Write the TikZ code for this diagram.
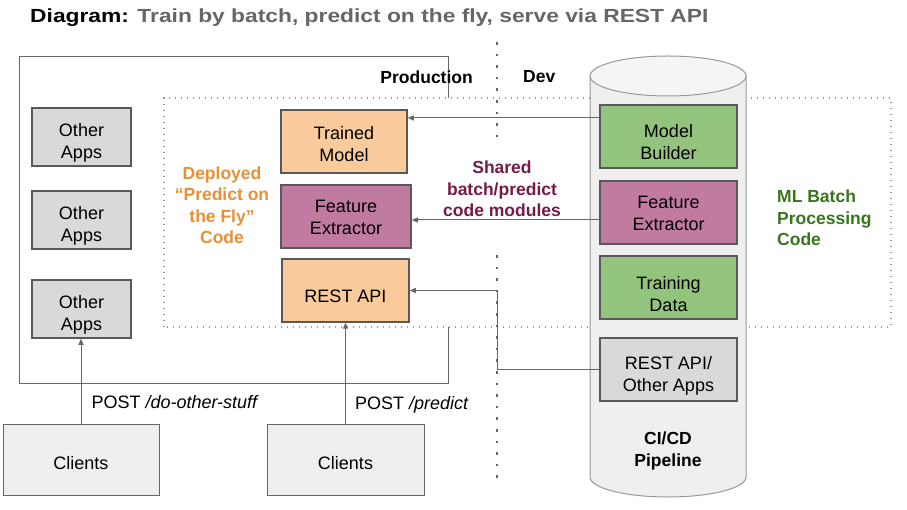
\documentclass[tikz,border=0pt]{standalone}
\usepackage{fontspec}
\setmainfont{Liberation Sans}
\newfontfamily\titlefont[FakeStretch=1.2]{Liberation Sans}
\usetikzlibrary{arrows.meta,positioning}
\definecolor{peach}{HTML}{F9CB9C}
\definecolor{plum}{HTML}{C27BA0}
\definecolor{leaf}{HTML}{93C47D}
\definecolor{appgray}{HTML}{D9D9D9}
\definecolor{light}{HTML}{EFEFEF}
\definecolor{edge}{HTML}{595959}
\definecolor{wire}{HTML}{666666}
\definecolor{deployed}{HTML}{E69138}
\definecolor{shared}{HTML}{741B47}
\definecolor{batch}{HTML}{38761D}
\newcommand\boxfont{\fontsize{18}{22}\selectfont}
% box text sits a little below the middle
\newcommand\lowtext[2][6pt]{\raisebox{-#1}[\height][\depth]{\begin{tabular}{@{}c@{}}#2\end{tabular}}}
\tikzset{
  blk/.style={draw=edge,line width=1.5pt,inner sep=0pt,font=\boxfont},
  client/.style={draw=wire,line width=0.9pt,fill=light,inner sep=0pt,font=\boxfont,
    minimum width=156pt,minimum height=71pt},
  arr/.style={draw=wire,line width=1pt,-{Triangle[length=6pt,width=5pt]}},
  txt/.style={font=\fontsize{17.5}{21.5}\selectfont\bfseries,align=center,inner sep=0pt}
}
\begin{document}
\begin{tikzpicture}[x=1pt,y=1pt]
  \useasboundingbox (0,0) rectangle (907,509);
  \node[anchor=west,inner sep=0,font=\titlefont\fontsize{19}{23}\selectfont\bfseries] (title) at (30,491)
    {Diagram: \textcolor{wire}{Train by batch, predict on the fly, serve via REST API}};

  % production / dev split
  \draw[wire,line width=0.9pt] (19,126) rectangle (448,453);
  \filldraw[fill=white,draw=gray!80,line width=1.2pt,dash pattern=on 1.2pt off 4.8pt]
    (164,182) rectangle (891,411);
  \draw[wire,line width=2.6pt,dash pattern=on 2.6pt off 9pt]
    (497,467) -- (497,369) (497,254) -- (497,31);
  \node[txt,anchor=east] (prod) at (473,432) {Production};
  \node[txt,anchor=west] (dev) at (523,432) {Dev};

  % CI/CD cylinder
  \filldraw[fill=light,draw=gray!80,line width=1pt] (590,433) -- (590,32)
    arc[start angle=180,end angle=360,x radius=78,y radius=20] -- (746,433) -- cycle;
  \filldraw[fill=gray!8,draw=gray!80,line width=1pt] (668,433) ellipse [x radius=78,y radius=20];

  \foreach \y [count=\i] in {372,289,200}
    \node[blk,fill=appgray,minimum width=99pt,minimum height=58pt] (oa\i) at (81.5,\y) {\lowtext{Other\\Apps}};

  \node[blk,fill=peach,minimum width=126pt,minimum height=63pt] (tm) at (344,367.5) {\lowtext[5pt]{Trained\\Model}};
  \node[blk,fill=plum,minimum width=130pt,minimum height=63pt] (fel) at (346,292.5) {\lowtext[3pt]{Feature\\Extractor}};
  \node[blk,fill=peach,minimum width=127pt,minimum height=63pt] (rest) at (345.5,218.5) {\lowtext[8pt]{REST API}};

  \node[blk,fill=leaf,minimum width=137pt,minimum height=63pt] (mb) at (668.5,372.5) {\lowtext[8pt]{Model\\Builder}};
  \node[blk,fill=plum,minimum width=137pt,minimum height=63pt] (fer) at (668.5,296.5) {\lowtext[3pt]{Feature\\Extractor}};
  \node[blk,fill=leaf,minimum width=137pt,minimum height=63pt] (td) at (668.5,221.5) {\lowtext[9pt]{Training\\Data}};
  \node[blk,fill=appgray,minimum width=137pt,minimum height=63pt] (ra) at (668.5,139.5) {\lowtext[7pt]{REST API/\\Other Apps}};

  \node[client] (cl1) at (81,49.5) {\lowtext{Clients}};
  \node[client,minimum width=157pt] (cl2) at (345.5,49.5) {\lowtext{Clients}};

  \node[txt,text=deployed] (fly) at (222,304) {Deployed\\“Predict on\\the Fly”\\Code};
  \node[txt,text=shared] (shr) at (502,320) {Shared\\batch/predict\\code modules};
  \node[txt,text=batch,align=left,anchor=west] (mlb) at (777,291) {ML Batch\\Processing\\Code};
  \node[txt] (cicd) at (668,58) {CI/CD\\Pipeline};

  % connectors
  \draw[arr] ([yshift=18.5pt]mb.west) -- ([yshift=18.5pt]mb.west -| tm.east);
  \draw[arr] ([yshift=-7.5pt]fer.west) -- ([yshift=-7.5pt]fer.west -| fel.east);
  \draw[arr] (ra.west) -- ++(-102,0) |- (rest.east);
  \draw[arr] (cl1.north) -- (cl1.north |- oa3.south)
    node[pos=0.25,anchor=west,xshift=10pt,font=\boxfont,inner sep=0] (p1) {POST \textit{/do-other-stuff}};
  \draw[arr] (cl2.north) -- (rest.south)
    node[pos=0.19,anchor=west,xshift=9pt,font=\boxfont,inner sep=0] (p2) {POST \textit{/predict}};
\end{tikzpicture}
\end{document}
